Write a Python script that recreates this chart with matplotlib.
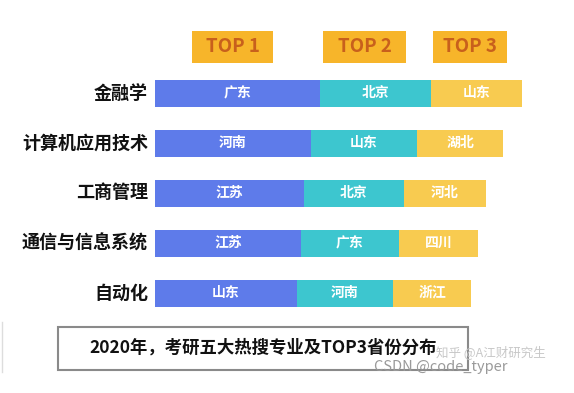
import matplotlib
matplotlib.use("Agg")
import matplotlib.pyplot as plt
from matplotlib.patches import Rectangle

plt.rcParams['font.family'] = ['Noto Sans CJK SC', 'DejaVu Sans']

majors = ["金融学", "计算机应用技术", "工商管理", "通信与信息系统", "自动化"]
top1_prov = ["广东", "河南", "江苏", "江苏", "山东"]
top2_prov = ["北京", "山东", "北京", "广东", "河南"]
top3_prov = ["山东", "湖北", "河北", "四川", "浙江"]
top1_val = [165, 156, 149, 146, 142]
top2_val = [111, 106, 100, 98, 96]
top3_val = [91, 86, 82, 79, 78]
headers = ["TOP 1", "TOP 2", "TOP 3"]
title = "2020年，考研五大热搜专业及TOP3省份分布"

W, H = 574, 393
fig = plt.figure(figsize=(W / 100, H / 100), dpi=100)
fig.patch.set_facecolor("white")

# bar axes: x from 155px to 535px, rows centred at 93..293px
ax = fig.add_axes([155 / W, 1 - 318 / H, 380 / W, 250 / H])
ax.set_xlim(0, 380)
ax.set_ylim(4.5, -0.5)
ax.axis("off")

colors = ["#5E7BEA", "#3DC6CF", "#F8CB50"]
ypos = list(range(len(majors)))
lefts = [0] * len(majors)
for vals, provs, c in zip([top1_val, top2_val, top3_val],
                          [top1_prov, top2_prov, top3_prov], colors):
    ax.barh(ypos, vals, left=lefts, height=0.54, color=c, edgecolor="none")
    for y, l, v, p in zip(ypos, lefts, vals, provs):
        ax.text(l + v / 2, y, p, ha="center", va="center", color="white",
                fontsize=10, fontweight="bold")
    lefts = [l + v for l, v in zip(lefts, vals)]

for y, m in zip(ypos, majors):
    ax.text(-7, y, m, ha="right", va="center", color="#111111",
            fontsize=13, fontweight="heavy")

# TOP header boxes
hdr_boxes = [(192, 273), (323, 406), (433, 507)]
for (x0, x1), h in zip(hdr_boxes, headers):
    fig.patches.append(Rectangle((x0 / W, 1 - 63 / H), (x1 - x0) / W, 32 / H,
                                 transform=fig.transFigure, facecolor="#F7B52A",
                                 edgecolor="none"))
    fig.text((x0 + x1) / 2 / W, 1 - 47 / H, h, ha="center", va="center",
             color="#C8601C", fontsize=13.5, fontweight="bold")

# title box
fig.patches.append(Rectangle((58 / W, 1 - 370 / H), 410 / W, 43 / H,
                             transform=fig.transFigure, facecolor="white",
                             edgecolor="#8a8a8a", linewidth=1.5))
fig.text(263 / W, 1 - 348 / H, title, ha="center", va="center",
         color="#111111", fontsize=12.5, fontweight="heavy")

# faint left edge line
fig.lines.append(plt.Line2D([2 / W, 2 / W], [1 - 372 / H, 1 - 322 / H],
                            transform=fig.transFigure, color="#dddddd", lw=1))

# watermarks
fig.text(546 / W, 1 - 352 / H, "知乎 @A江财研究生", ha="right", va="center",
         color="#c8c8c8", fontsize=9)
fig.text(508 / W, 1 - 367 / H, "CSDN @code_typer", ha="right", va="center",
         color="#9a9a9a", fontsize=10.5)

fig.savefig("out.png", dpi=100, facecolor="white")
